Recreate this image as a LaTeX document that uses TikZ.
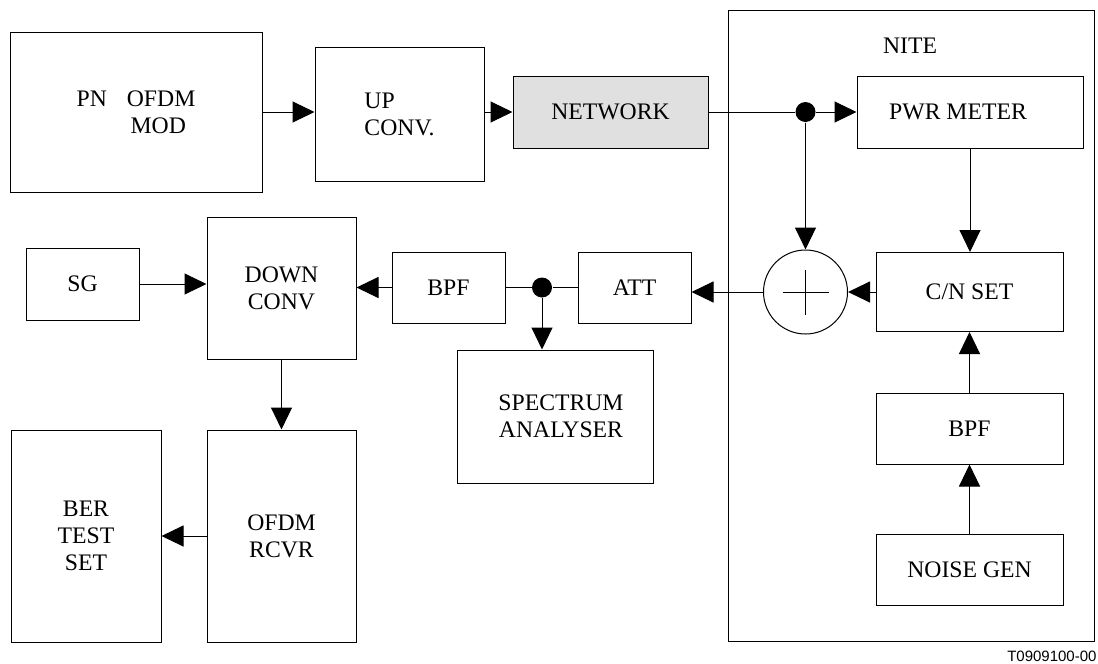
\documentclass[tikz,border=0pt]{standalone}
\usepackage{fontspec}
\setmainfont{Liberation Serif}
\newfontfamily\figfont{Liberation Sans}
\usetikzlibrary{arrows.meta}

\begin{document}
\begin{tikzpicture}[x=1pt, y=-1pt, line width=1pt,
  block/.style={draw, inner sep=0pt, align=center, font=\fontsize{23.7}{27}\selectfont},
  junction/.style={shape=circle, fill=black, inner sep=0pt, minimum size=20pt, node contents=},
  >={Triangle[length=22pt, width=21pt]}]
\useasboundingbox (0,0) rectangle (1098,664);

% transmit side
\node[block, align=left, minimum width=252pt, minimum height=160pt] (pn) at (136,112) {PN\hspace{20pt}OFDM\\\hspace{54pt}MOD};
\node[block, align=left, minimum width=169pt, minimum height=134pt] (up) at (399.5,114) {UP\\CONV.};
\node[block, fill=black!12, minimum width=195pt, minimum height=72pt] (net) at (610.5,112) {NETWORK};

% noise injection test equipment
\node[draw, inner sep=0pt, minimum width=366pt, minimum height=631pt] (nite) at (911,325.5) {};
\node[font=\fontsize{23.7}{27}\selectfont, anchor=base] (nitelbl) at (910,53) {NITE};
\node[block, minimum width=226pt, minimum height=72pt] (pwr) at (970,112) {PWR METER\hspace{24pt}};
\node[block, minimum width=187pt, minimum height=79pt] (cn) at (969.5,292) {C/N SET};
\node[block, minimum width=187pt, minimum height=71pt] (bpfn) at (969.5,428.5) {BPF};
\node[block, minimum width=187pt, minimum height=71pt] (noise) at (969.5,569.5) {NOISE GEN};
\node[draw, shape=circle, inner sep=0pt, minimum size=84pt] (sum) at (805.5,292) {};
\draw (sum.center) +(-23,0) -- +(23,0);
\draw (sum.center) +(0,-22) -- +(0,23);
\node (tapA) at (805.5,112) [junction];

% receive side
\node[block, minimum width=113pt, minimum height=71pt] (att) at (634.5,287.5) {ATT};
\node (tapB) at (542,287.5) [junction];
\node[block, minimum width=113pt, minimum height=71pt] (bpf) at (448.5,287.5) {BPF};
\node[block, minimum width=196pt, minimum height=133pt] (spec) at (555,416.5) {\hspace{12pt}SPECTRUM\\\hspace{12pt}ANALYSER};
\node[block, minimum width=149pt, minimum height=142pt] (dc) at (281.5,288) {DOWN\\CONV};
\node[block, minimum width=113pt, minimum height=72pt] (sg) at (82.5,284) {SG};
\node[block, minimum width=149pt, minimum height=212pt] (rcvr) at (281.5,536) {OFDM\\RCVR};
\node[block, minimum width=150pt, minimum height=212pt] (ber) at (86,536) {BER\\TEST\\SET};

\node[font=\figfont\fontsize{15}{18}\selectfont, anchor=base east, inner sep=0pt] (figno) at (1097,661) {T0909100-00};

% connections
\draw[->] (pn.east) -- (pn.east -| up.west);
\draw[->] (net.west -| up.east) -- (net.west);
\draw (net.east) -- (tapA);
\draw[->] (tapA) -- (pwr.west);
\draw[->] (tapA) -- (sum.north);
\draw[->] (pwr.south) -- (pwr.south |- cn.north);
\draw[->] (cn.west) -- (sum.east);
\draw[->] (noise.north) -- (bpfn.south);
\draw[->] (bpfn.north) -- (cn.south);
\draw[->] (sum.west) -- (sum.west -| att.east);
\draw (att.west) -- (tapB) -- (bpf.east);
\draw[->] (tapB) -- (tapB |- spec.north);
\draw[->] (bpf.west) -- (bpf.west -| dc.east);
\draw[->] (sg.east) -- (sg.east -| dc.west);
\draw[->] (dc.south) -- (dc.south |- rcvr.north);
\draw[->] (rcvr.west) -- (ber.east);
\end{tikzpicture}
\end{document}
